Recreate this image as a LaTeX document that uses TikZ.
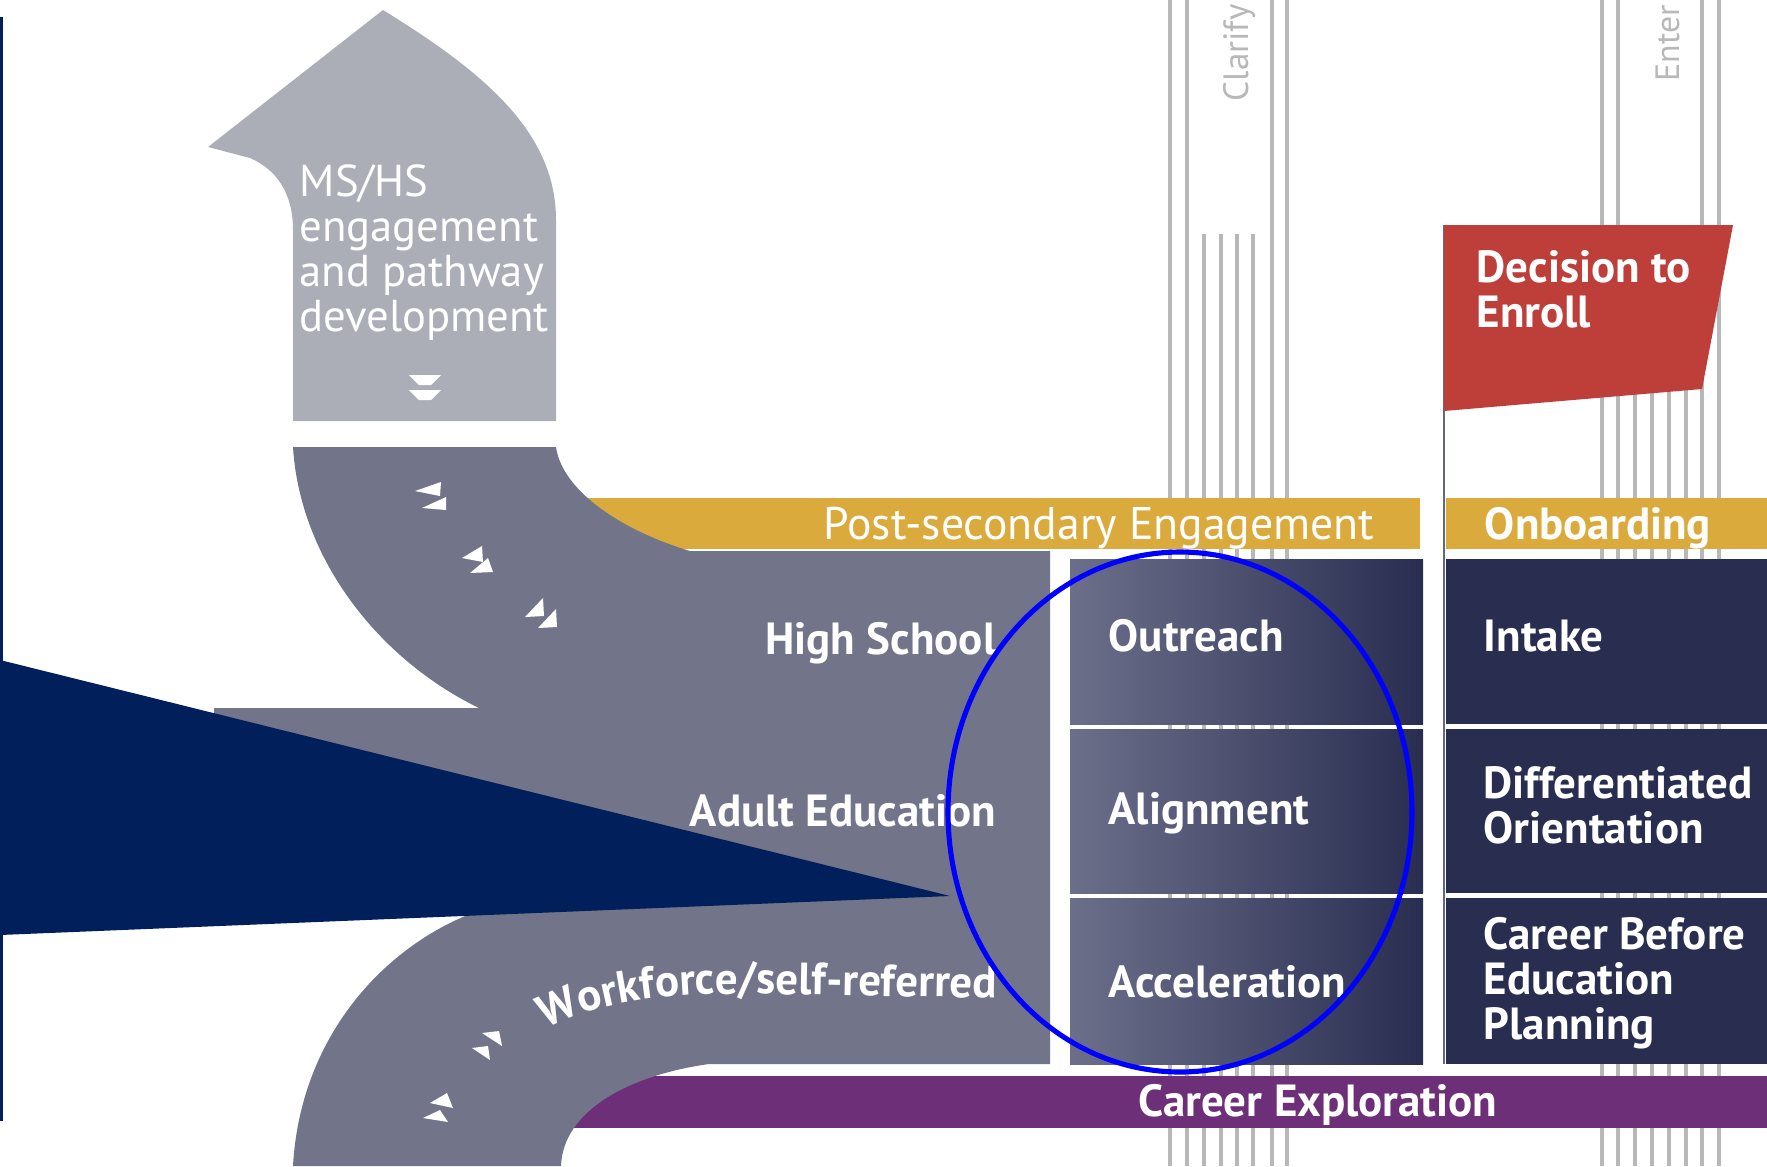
\documentclass[tikz,border=0pt]{standalone}
\usepackage{fontspec}
\setmainfont{PT Sans}
\usetikzlibrary{decorations.text}

\definecolor{roadgray}{RGB}{114,117,138}
\definecolor{lightroad}{RGB}{172,174,183}
\definecolor{navyblue}{RGB}{0,31,91}
\definecolor{boxnavy}{RGB}{41,45,80}
\definecolor{boxlight}{RGB}{108,111,138}
\definecolor{goldbar}{RGB}{219,170,60}
\definecolor{plum}{RGB}{110,47,121}
\definecolor{flagred}{RGB}{190,62,58}
\definecolor{stripegray}{RGB}{184,184,184}
\definecolor{polegray}{RGB}{100,104,122}

\newcommand{\roadfont}{\bfseries\fontsize{12.8}{12.8}\selectfont}
\newcommand{\msfont}{\fontsize{12.7}{12.8}\selectfont}

\begin{document}
\begin{tikzpicture}[x=0.01cm, y=-0.01cm,
    stripe/.style={stripegray, line width=1.1pt},
    boxtext/.style={text=white, font=\roadfont, align=left, inner sep=0pt},
    fastmark/.style={fill=white}]

    \useasboundingbox (0,0) rectangle (1767,1166);

    % Listras verticais ao fundo
    \draw[stripe] (1170,0) -- (1170,1166) (1187,0) -- (1187,1166)
                  (1272,0) -- (1272,1166) (1287,0) -- (1287,1166);
    \draw[stripe] (1204,234) -- (1204,1166) (1221,234) -- (1221,1166)
                  (1237,234) -- (1237,1166) (1253,234) -- (1253,1166);
    \draw[stripe] (1602,0) -- (1602,1166) (1618,0) -- (1618,1166)
                  (1702,0) -- (1702,1166) (1719,0) -- (1719,1166);
    \draw[stripe] (1635,300) -- (1635,1166) (1652,300) -- (1652,1166)
                  (1669,300) -- (1669,1166) (1686,300) -- (1686,1166);
    \node[rotate=90, anchor=base west, inner sep=0pt, text=stripegray,
          font=\fontsize{10}{12}\selectfont] (clarify) at (1248,102) {Clarify};
    \node[rotate=90, anchor=base west, inner sep=0pt, text=stripegray,
          font=\fontsize{9.6}{12}\selectfont] (enter) at (1679,82) {Enter};

    % Seta clara (MS/HS)
    \fill[lightroad] (383,10) -- (208,147) -- (250,158)
        .. controls (278,170) and (293,195) .. (293,230) -- (293,421) -- (556,421)
        -- (556,220) .. controls (556,130) and (480,70) .. (383,10) -- cycle;
    \fill[fastmark] (409,375) -- (441,375) -- (431,385) -- (419,385) -- cycle
                    (409,390) -- (441,390) -- (431,400) -- (419,400) -- cycle;

    % Faixas coloridas
    \fill[goldbar] (540,498) rectangle (1420,549);
    \fill[goldbar] (1446,498) rectangle (1767,549);
    \fill[plum] (540,1076) rectangle (1767,1128);

    % Estrada cinza (entradas)
    \fill[roadgray] (293,447) -- (556,447) .. controls (562,490) and (620,530) .. (690,551)
        -- (1050,551) -- (1050,1064) -- (709,1064)
        .. controls (630,1075) and (563,1110) .. (561,1166) -- (293,1166)
        .. controls (300,1040) and (380,950) .. (470,914) -- (214,924) -- (214,708)
        -- (479,708) .. controls (380,660) and (300,560) .. (293,447) -- cycle;

    % Marcas de sentido na estrada
    \fill[fastmark] (415,491) -- (441,482) -- (440,496) -- cycle
                    (422,508) -- (446,497) -- (446,510) -- cycle;
    \fill[fastmark] (462,558) -- (482,546) -- (483,562) -- cycle
                    (470,573) -- (488,558) -- (493,572) -- cycle;
    \fill[fastmark] (525,617) -- (543,598) -- (544,616) -- cycle
                    (538,628) -- (556,609) -- (557,627) -- cycle;
    \fill[fastmark] (482,1033) -- (499,1031) -- (502,1046) -- cycle
                    (472,1048) -- (488,1046) -- (490,1060) -- cycle;
    \fill[fastmark] (430,1103) -- (447,1093) -- (453,1108) -- cycle
                    (423,1118) -- (440,1110) -- (448,1122) -- cycle;

    % Caixas com degradê (Post-secondary)
    \fill[left color=boxlight, right color=boxnavy] (1070,559) rectangle (1423,724);
    \fill[left color=boxlight, right color=boxnavy] (1070,729) rectangle (1423,893);
    \fill[left color=boxlight, right color=boxnavy] (1070,898) rectangle (1423,1064);

    % Caixas escuras (Onboarding)
    \fill[boxnavy] (1446,559) rectangle (1767,724);
    \fill[boxnavy] (1446,729) rectangle (1767,893);
    \fill[boxnavy] (1446,898) rectangle (1767,1064);

    % Bandeira
    \draw[polegray, line width=0.8pt] (1444,225) -- (1444,1064);
    \fill[flagred] (1444,225) -- (1733,225) -- (1702,389) -- (1444,411) -- cycle;

    % Triângulo azul-marinho e linha da esquerda
    \fill[navyblue] (0,660) -- (950,896) -- (0,935) -- cycle;
    \fill[navyblue] (0,17) rectangle (3,1121);

    % Textos
    \node[boxtext, font=\msfont, anchor=north west] (msHS) at (299,164)
        {MS/HS\\engagement\\and pathway\\development};
    \node[boxtext, anchor=base east] (highSchool) at (997,654) {High School};
    \node[boxtext, anchor=base east] (adultEd) at (997,826) {Adult Education};
    \path[decorate, decoration={text along path, text align=right, text color=white,
          text={|\roadfont|Workforce/self-referred}}]
        (490,1068) -- (520,1045) .. controls (580,1005) and (640,993) .. (760,994) -- (997,998);
    \node[boxtext, font=\fontsize{13}{14}\selectfont, anchor=base] (postSec) at (1099,539)
        {Post-secondary Engagement};
    \node[boxtext, anchor=base] (onboard) at (1598,539) {Onboarding};
    \node[boxtext, anchor=base] (careerExp) at (1318,1116) {Career Exploration};
    \node[boxtext, anchor=base west] (outreach) at (1108,651) {Outreach};
    \node[boxtext, anchor=base west] (alignment) at (1108,824) {Alignment};
    \node[boxtext, anchor=base west] (acceleration) at (1108,997) {Acceleration};
    \node[boxtext, anchor=base west] (intake) at (1483,651) {Intake};
    \node[boxtext, anchor=north west] (diffOrient) at (1483,766) {Differentiated\\Orientation};
    \node[boxtext, anchor=north west] (careerPlan) at (1483,917) {Career Before\\Education\\Planning};
    \node[boxtext, anchor=north west] (decision) at (1476,250) {Decision to\\Enroll};

    % Elipse de destaque
    \draw[blue, line width=1.45pt] (1180,812) ellipse [x radius=232, y radius=260];

\end{tikzpicture}
\end{document}
